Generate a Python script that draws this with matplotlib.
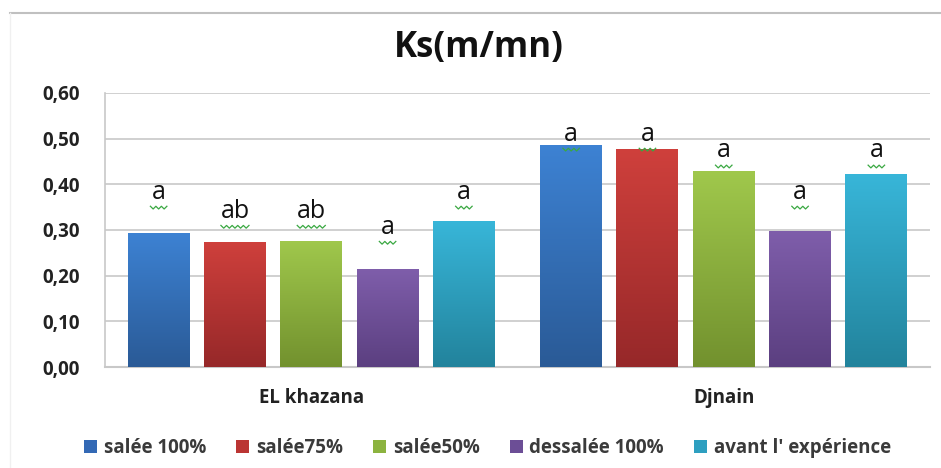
import numpy as np
import matplotlib
matplotlib.use("Agg")
import matplotlib.pyplot as plt
from matplotlib.colors import LinearSegmentedColormap
from matplotlib.patches import Patch
from matplotlib.lines import Line2D

# Data
sites = ["EL khazana", "Djnain"]
series = ["salée 100%", "salée75%", "salée50%", "dessalée 100%", "avant l' expérience"]
ks_el_khazana = [0.293, 0.274, 0.276, 0.215, 0.320]
ks_djnain = [0.486, 0.477, 0.429, 0.298, 0.423]
letters_el_khazana = ["a", "ab", "ab", "a", "a"]
letters_djnain = ["a", "a", "a", "a", "a"]
y_ticks = [0.0, 0.1, 0.2, 0.3, 0.4, 0.5, 0.6]
y_tick_labels = ["0,00", "0,10", "0,20", "0,30", "0,40", "0,50", "0,60"]

# Label heights (centre of the letter group) for each bar
letter_y_el_khazana = [0.383, 0.341, 0.341, 0.306, 0.383]
letter_y_djnain = [0.510, 0.510, 0.473, 0.383, 0.473]

# Gradient colours (top, bottom) per series
grad_colors = [
    ("#3d82d3", "#2a5a96"),
    ("#cf403c", "#962829"),
    ("#a0c84c", "#72912e"),
    ("#7f5eab", "#5b3f80"),
    ("#38b6d9", "#22839c"),
]
legend_colors = ["#3369b5", "#bb3533", "#8cb33f", "#6c4e96", "#2e9fc0"]

values = np.array([ks_el_khazana, ks_djnain])  # shape (site, series)
letters = [letters_el_khazana, letters_djnain]
letter_y = [letter_y_el_khazana, letter_y_djnain]

fig = plt.figure(figsize=(9.41, 4.68), dpi=100)
fig.patch.set_facecolor("white")
ax = fig.add_axes([0.1116, 0.2158, 0.8767, 0.5855])

x = np.arange(len(sites))
pitch = 0.185
width = 0.15
grad = np.linspace(0, 1, 256).reshape(-1, 1)

for i, name in enumerate(series):
    pos = x + (i - 2) * pitch
    bars = ax.bar(pos, values[:, i], width=width, color=legend_colors[i],
                  edgecolor="none", zorder=2)
    cmap = LinearSegmentedColormap.from_list(f"g{i}", [grad_colors[i][1], grad_colors[i][0]])
    for p in bars:
        x0, y0 = p.get_x(), p.get_y()
        im = ax.imshow(grad, extent=[x0, x0 + p.get_width(), y0, y0 + p.get_height()],
                       origin="lower", aspect="auto", cmap=cmap, zorder=3)
        im.set_clip_path(p)
    # significance letters with green wavy underline
    for j in range(len(sites)):
        txt = letters[j][i]
        ly = letter_y[j][i]
        ax.text(pos[j], ly, txt, ha="center", va="center", fontsize=18,
                family="Open Sans", color="#111111", zorder=5)
        half = 0.014 * len(txt) + 0.006
        zx = np.linspace(pos[j] - half, pos[j] + half, 4 * len(txt) + 3)
        zy = ly - 0.034 + np.where(np.arange(len(zx)) % 2 == 0, 0.003, -0.003)
        ax.plot(zx, zy, color="#3aa842", lw=0.9, zorder=5)

ax.set_xlim(-0.5, 1.5)
ax.set_ylim(0, 0.6)
ax.set_yticks(y_ticks)
ax.set_yticklabels(y_tick_labels, fontsize=13.5, fontweight="bold", family="Open Sans",
                   color="#222222")
ax.set_xticks(x)
ax.set_xticklabels(sites, fontsize=13.5, fontweight="bold", family="Open Sans", color="#222222")
ax.tick_params(axis="y", length=0, pad=18)
ax.tick_params(axis="x", length=0, pad=15)
ax.grid(axis="y", color="#c8c8c8", lw=1.2, zorder=0)
ax.set_axisbelow(True)
for s in ["top", "right"]:
    ax.spines[s].set_visible(False)
ax.spines["left"].set_color("#c8c8c8")
ax.spines["bottom"].set_color("#c8c8c8")
ax.spines["left"].set_linewidth(1.2)
ax.spines["bottom"].set_linewidth(1.5)

fig.text(0.509, 0.897, "Ks(m/mn)", ha="center", va="center", fontsize=25,
         fontweight="bold", family="Open Sans", color="#111111")

# Outer chart frame lines
fig.add_artist(Line2D([10 / 941, 1], [1 - 12.5 / 468] * 2, color="#c0c0c0", lw=1.5))
fig.add_artist(Line2D([10 / 941] * 2, [0, 1 - 12.5 / 468], color="#f0f0f0", lw=1))

handles = [Patch(facecolor=c, edgecolor="none") for c in legend_colors]
fig.legend(handles, series, loc="center", bbox_to_anchor=(0.518, 0.043), ncol=5,
           frameon=False, handlelength=0.7, handleheight=0.7, handletextpad=0.35,
           columnspacing=1.6, prop={"family": "Open Sans", "weight": "bold", "size": 13.5})
for t in fig.legends[0].get_texts():
    t.set_color("#3a3a3a")

fig.savefig("out.png", dpi=100, facecolor="white")
